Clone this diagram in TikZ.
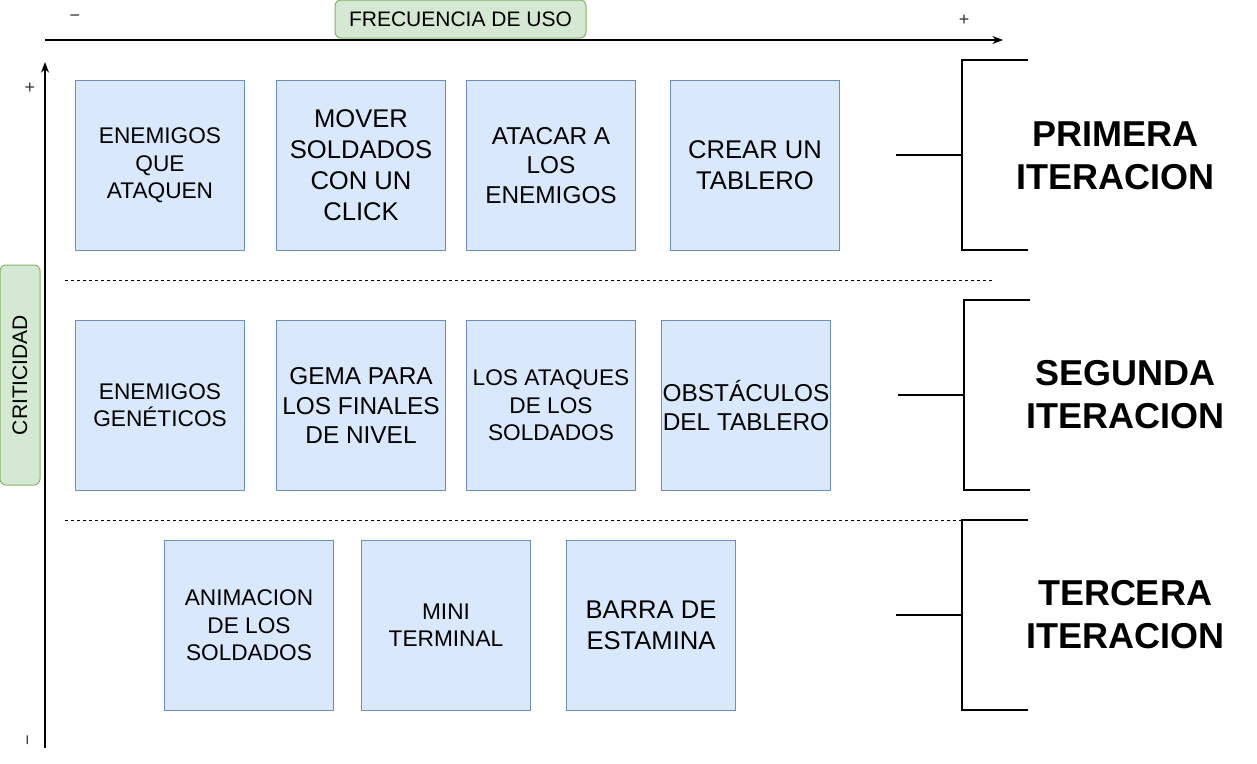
\documentclass[tikz,border=0pt]{standalone}
\usepackage{fontspec}
\setmainfont{Liberation Sans}
\usetikzlibrary{arrows.meta}

\definecolor{storyfill}{HTML}{DAE8FC}
\definecolor{storyline}{HTML}{6C8EBF}
\definecolor{tagfill}{HTML}{D5E8D4}
\definecolor{tagline}{HTML}{82B366}

\begin{document}
\begin{tikzpicture}[
        x=0.75pt, y=-0.75pt,
        >={Stealth[length=8pt, width=6pt]},
        story/.style={draw=storyline, fill=storyfill, line width=0.75pt,
            minimum width=126.75pt, minimum height=127.5pt,
            inner sep=0pt, align=center, anchor=north west},
        txtS/.style={font=\fontsize{17}{20.5}\selectfont},
        txtM/.style={font=\fontsize{18.3}{22}\selectfont},
        txtL/.style={font=\fontsize{19.2}{23.25}\selectfont},
        tag/.style={draw=tagline, fill=tagfill, line width=0.75pt,
            rounded corners=4.5pt, inner sep=0pt,
            font=\fontsize{15.75}{18}\selectfont},
        iter/.style={align=center, font=\bfseries\fontsize{27}{32.25}\selectfont},
        sign/.style={inner sep=0pt, text=black!80, font=\fontsize{13.5}{15}\selectfont},
        axis/.style={->, line width=1pt},
        bracket/.style={line width=1.5pt},
        sep/.style={line width=0.75pt, dash pattern=on 2.25pt off 2.25pt}
    ]
        \useasboundingbox (0,0) rectangle (1257,764);

        % axes
        \coordinate (origin) at (45,40);
        \coordinate (xend) at (1003,40);
        \coordinate (ybot) at (45,748);
        \coordinate (yend) at (45,62);
        \draw[axis] (origin) -- (xend);
        \draw[axis] (ybot) -- (yend);

        \node[tag, minimum width=188.25pt, minimum height=28.5pt] (freq) at (460.5,19) {FRECUENCIA DE USO};
        \node[tag, rotate=90, minimum width=165pt, minimum height=30pt] (crit) at (20,375) {CRITICIDAD};

        \node[sign] (xmin) at (75,18) {−};
        \node[sign] (xmax) at (964,20) {+};
        \node[sign] (ymax) at (30,88) {+};
        \node[sign, rotate=90] (ymin) at (30,740) {−};

        % primera iteracion
        \node[story, txtS] (enemigos) at (75,80) {ENEMIGOS\\QUE\\ATAQUEN};
        \node[story, txtL] (mover) at (276,80) {MOVER\\SOLDADOS\\CON UN\\CLICK};
        \node[story, txtM] (atacar) at (466,80) {ATACAR A\\LOS\\ENEMIGOS};
        \node[story, txtL] (tablero) at (670,80) {CREAR UN\\TABLERO};

        % segunda iteracion
        \node[story, txtS] (geneticos) at (75,320) {ENEMIGOS\\GENÉTICOS};
        \node[story, txtM] (gema) at (276,320) {GEMA PARA\\LOS FINALES\\DE NIVEL};
        \node[story, txtS] (ataques) at (466,320) {LOS ATAQUES\\DE LOS\\SOLDADOS};
        \node[story, txtM] (obstaculos) at (661,320) {OBSTÁCULOS\\DEL TABLERO};

        % tercera iteracion
        \node[story, txtS] (animacion) at (164,540) {ANIMACION\\DE LOS\\SOLDADOS};
        \node[story, txtS] (terminal) at (361,540) {MINI\\TERMINAL};
        \node[story, txtL] (estamina) at (566,540) {BARRA DE\\ESTAMINA};

        \draw[sep] (65,280) -- (993,280);
        \draw[sep] (65,520) -- (962,520);

        % brackets
        \draw[bracket] (896,155) -- (962,155) (1028,60) -- (962,60) -- (962,250) -- (1028,250);
        \draw[bracket] (898,395) -- (964,395) (1030,300) -- (964,300) -- (964,490) -- (1030,490);
        \draw[bracket] (896,615) -- (962,615) (1028,520) -- (962,520) -- (962,710) -- (1028,710);

        \node[iter] (it1) at (1115,155.5) {PRIMERA\\ITERACION};
        \node[iter] (it2) at (1125,395) {SEGUNDA\\ITERACION};
        \node[iter] (it3) at (1125,615) {TERCERA\\ITERACION};
\end{tikzpicture}
\end{document}
